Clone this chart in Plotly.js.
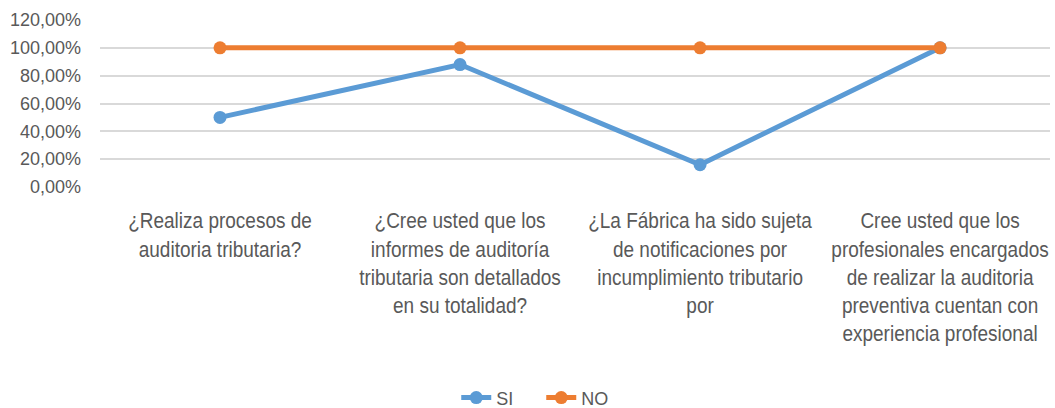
<!DOCTYPE html>
<html>
<head>
<meta charset="utf-8">
<script src="https://cdn.plot.ly/plotly-3.0.1.min.js"></script>
<style>html,body{margin:0;padding:0;background:#fff;}</style>
</head>
<body>
<div id="chart" style="width:1055px;height:408px;"></div>
<script>
const categories = [
  "¿Realiza procesos de<br>auditoria tributaria?",
  "¿Cree usted que los<br>informes de auditoría<br>tributaria son detallados<br>en su totalidad?",
  "¿La Fábrica ha sido sujeta<br>de notificaciones por<br>incumplimiento tributario<br>por",
  "Cree usted que los<br>profesionales encargados<br>de realizar la auditoria<br>preventiva cuentan con<br>experiencia profesional"
];
const siValues = [0.50, 0.88, 0.16, 1.00];
const noValues = [1.00, 1.00, 1.00, 1.00];
const yTicks = [0, 0.2, 0.4, 0.6, 0.8, 1.0, 1.2];

const font = "'Liberation Sans', Arial, sans-serif";
const idx = categories.map((c, i) => i);

const traces = [
  {x: idx, y: siValues, name: "SI", type: "scatter", mode: "lines+markers",
   line: {color: "#5B9BD5", width: 5}, marker: {color: "#5B9BD5", size: 13}},
  {x: idx, y: noValues, name: "NO", type: "scatter", mode: "lines+markers",
   line: {color: "#ED7D31", width: 5}, marker: {color: "#ED7D31", size: 13}}
];

const layout = {
  width: 1055, height: 408,
  margin: {l: 100, r: 5, t: 20, b: 221, autoexpand: false},
  separators: ",.",
  paper_bgcolor: "#fff", plot_bgcolor: "#fff",
  font: {family: font, color: "#595959", size: 18},
  showlegend: true,
  legend: {orientation: "h", x: 0.375, xanchor: "left", y: -1.263, yanchor: "middle",
           entrywidth: 40, entrywidthmode: "pixels",
           font: {family: font, size: 18, color: "#595959"}},
  xaxis: {
    tickmode: "array", tickvals: idx, ticktext: categories,
    range: [-0.5, 3.458], showgrid: false, zeroline: false, showline: false,
    ticks: "", tickfont: {family: font, size: 19, color: "#595959"}, tickangle: 0,
    ticklabelstandoff: 19, automargin: false
  },
  yaxis: {
    range: [0, 1.2], tickmode: "array", tickvals: yTicks, tickformat: ".2%",
    showgrid: true, gridcolor: "#D9D9D9", gridwidth: 2, zeroline: false, showline: false,
    ticks: "", tickfont: {family: font, size: 18, color: "#595959"}, ticklabelstandoff: 18,
    automargin: false
  }
};

Plotly.newPlot("chart", traces, layout, {displayModeBar: false, staticPlot: true}).then(gd => {
  // stretch the category labels vertically like the reference
  gd.querySelectorAll(".xtick text").forEach(t => {
    const bb = t.getBBox();
    const orig = t.getAttribute("transform") || "";
    t.setAttribute("transform", orig + " translate(0," + bb.y + ") scale(1,1.14) translate(0," + (-bb.y) + ")");
  });
});
</script>
</body>
</html>
